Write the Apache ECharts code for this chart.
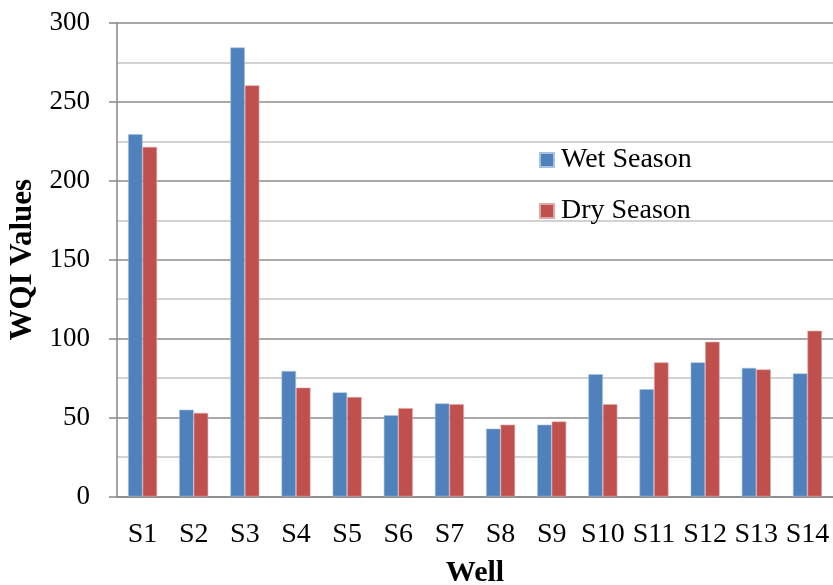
<!DOCTYPE html>
<html>
<head>
<meta charset="utf-8">
<script src="https://cdn.jsdelivr.net/npm/echarts@6/dist/echarts.min.js"></script>
<style>
html,body{margin:0;padding:0;background:#fff;}
#chart{width:833px;height:585px;}
</style>
</head>
<body>
<div id="chart"></div>
<script>
const categories = ['S1','S2','S3','S4','S5','S6','S7','S8','S9','S10','S11','S12','S13','S14'];
const wetSeason = [229.5, 55, 284.5, 79.5, 66, 51.5, 59, 43, 45.5, 77.5, 68, 85, 81.5, 78];
const drySeason = [221.5, 53, 260.5, 69, 63, 56, 58.5, 45.5, 47.5, 58.5, 85, 98, 80.5, 105];
const seriesNames = ['Wet Season', 'Dry Season'];
const yTicks = {min: 0, max: 300, interval: 50};

const font = 'Liberation Serif, Times New Roman, serif';
const chart = echarts.init(document.getElementById('chart'));
chart.setOption({
  animation: false,
  textStyle: {fontFamily: font},
  grid: {left: 117, right: 0, top: 23, bottom: 88.5, containLabel: false, outerBoundsMode: 'none'},
  legend: {
    orient: 'vertical',
    left: 534, top: 141,
    itemWidth: 14, itemHeight: 14, itemGap: 23,
    icon: 'rect',
    textStyle: {fontFamily: font, fontSize: 28, color: '#000', padding: [0, 0, 0, 2]},
    data: seriesNames
  },
  xAxis: {
    type: 'category',
    data: categories,
    name: 'Well',
    nameLocation: 'middle',
    nameGap: 62,
    nameTextStyle: {fontFamily: font, fontSize: 30, fontWeight: 'bold', color: '#000'},
    axisLine: {lineStyle: {color: '#888', width: 1.5}},
    axisTick: {show: false},
    axisLabel: {fontFamily: font, fontSize: 28, color: '#000', margin: 24, interval: 0}
  },
  yAxis: {
    type: 'value',
    min: yTicks.min, max: yTicks.max, interval: yTicks.interval,
    name: 'WQI Values',
    nameLocation: 'middle',
    nameGap: 77,
    nameTextStyle: {fontFamily: font, fontSize: 31, fontWeight: 'bold', color: '#000'},
    axisLine: {show: true, lineStyle: {color: '#888', width: 1.5}},
    axisTick: {show: true, length: 8, lineStyle: {color: '#888', width: 1.5}},
    axisLabel: {fontFamily: font, fontSize: 27, color: '#000', margin: 27},
    splitLine: {show: true, lineStyle: {color: '#8c8c8c', width: 1.5}},
    minorTick: {show: false, splitNumber: 2},
    minorSplitLine: {show: true, lineStyle: {color: '#c4c4c4', width: 1.5}}
  },
  series: [
    {
      name: seriesNames[0], type: 'bar', data: wetSeason,
      barWidth: 14.5, barGap: '0%',
      itemStyle: {color: '#4F81BD', borderColor: '#a9c1e0', borderWidth: 0.6}
    },
    {
      name: seriesNames[1], type: 'bar', data: drySeason,
      barWidth: 14.5, barGap: '0%',
      itemStyle: {color: '#C0504D', borderColor: '#e0a9a7', borderWidth: 0.6}
    }
  ]
});
</script>
</body>
</html>
